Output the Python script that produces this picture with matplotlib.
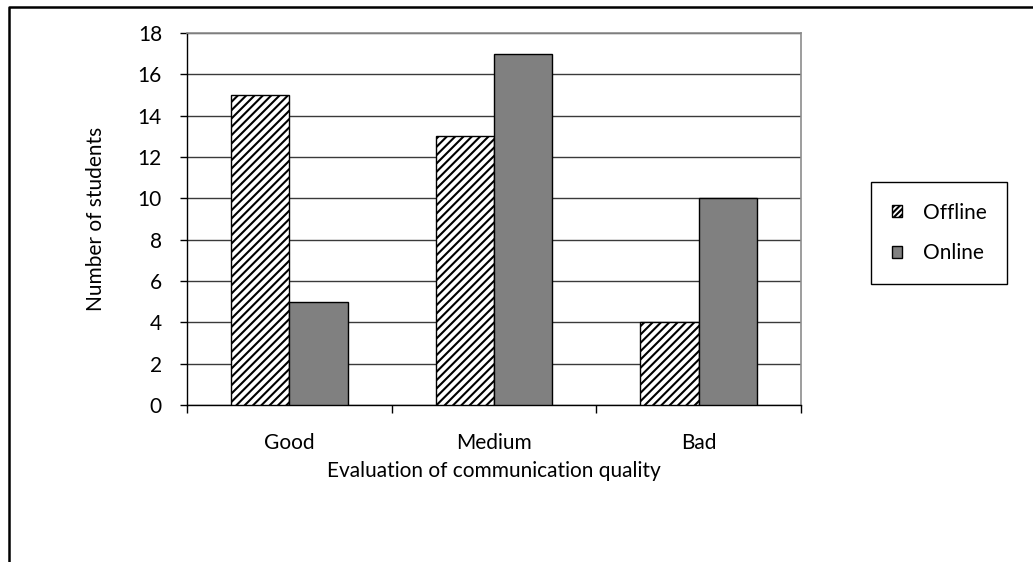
import numpy as np
import matplotlib.pyplot as plt
from matplotlib.lines import Line2D
from matplotlib.patches import Patch

plt.rcParams['font.family'] = ['Lato', 'DejaVu Sans']
plt.rcParams['hatch.linewidth'] = 1.5

categories = ['Good', 'Medium', 'Bad']
offline = [15, 13, 4]
online = [5, 17, 10]
y_ticks = [0, 2, 4, 6, 8, 10, 12, 14, 16, 18]

fig = plt.figure(figsize=(10.33, 5.62), dpi=100)
ax = fig.add_axes([0.181, 0.2794, 0.5944, 0.6619])

x = np.arange(len(categories))
w = 0.285
ax.bar(x - w / 2, offline, w, color='white', edgecolor='black', hatch='////', linewidth=1.0, zorder=3)
ax.bar(x + w / 2, online, w, color='#808080', edgecolor='black', linewidth=1.0, zorder=3)

ax.set_xlim(-0.5, 2.5)
ax.set_ylim(0, 18)
ax.set_yticks(y_ticks)
ax.yaxis.grid(True, color='#3a3a3a', linewidth=1.0, zorder=0)
ax.set_axisbelow(True)

# category separators as outward ticks, labels centred on minor ticks
ax.set_xticks([-0.5, 0.5, 1.5, 2.5])
ax.set_xticklabels([])
ax.set_xticks(x, minor=True)
ax.set_xticklabels(categories, minor=True)
ax.tick_params(axis='x', which='major', direction='out', length=6, width=1, color='black')
ax.tick_params(axis='x', which='minor', length=0, pad=20, labelsize=15)
ax.tick_params(axis='y', direction='out', length=5, width=1, color='black', labelsize=15, pad=13)

for side in ['top', 'right']:
    ax.spines[side].set_color('#8c8c8c')
    ax.spines[side].set_linewidth(1.2)
for side in ['left', 'bottom']:
    ax.spines[side].set_color('black')
    ax.spines[side].set_linewidth(1.0)

ax.set_ylabel('Number of students', fontsize=15, labelpad=23)
ax.set_xlabel('Evaluation of communication quality', fontsize=15, labelpad=6)

handles = [Patch(facecolor='white', edgecolor='black', hatch='//////', linewidth=1.0),
           Patch(facecolor='#808080', edgecolor='black', linewidth=1.0)]
leg = fig.legend(handles, ['Offline', 'Online'], loc='center',
                 bbox_to_anchor=(939 / 1033, 1 - 233 / 562), fontsize=15,
                 handlelength=0.5, handleheight=0.5, handletextpad=1.0,
                 labelspacing=1.0, borderpad=1.0, fancybox=False,
                 edgecolor='black', framealpha=1)
leg.get_frame().set_linewidth(1.0)

# outer chart border
fig.add_artist(Line2D([9 / 1033, 9 / 1033, 1.1], [-0.1, 1 - 7 / 562, 1 - 7 / 562],
                      transform=fig.transFigure, color='black', linewidth=1.8))

fig.savefig('out.png', dpi=100)
